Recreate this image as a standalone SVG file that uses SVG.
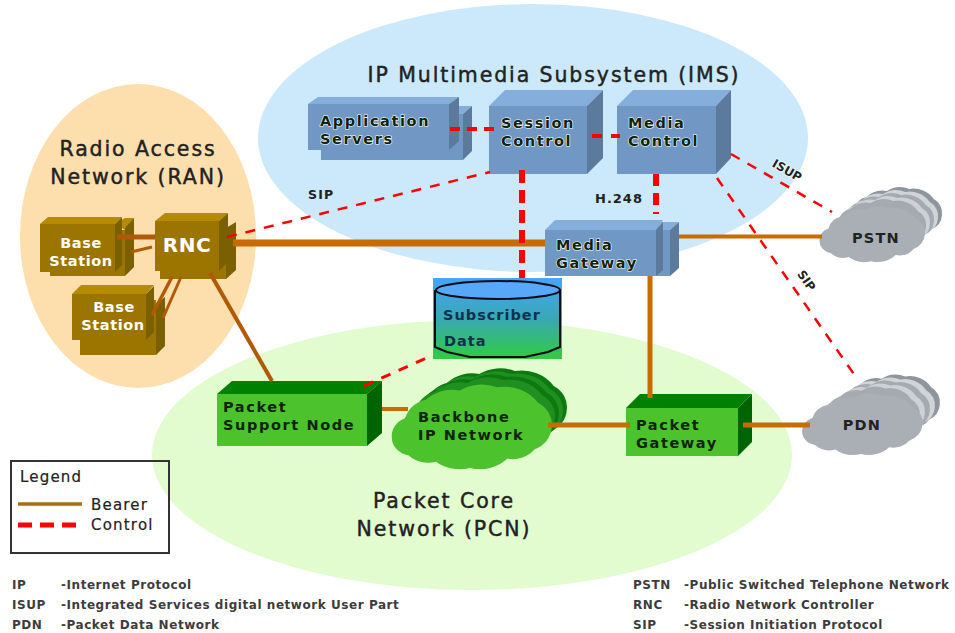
<svg xmlns="http://www.w3.org/2000/svg" xmlns:xlink="http://www.w3.org/1999/xlink" width="955" height="633" viewBox="0 0 955 633">
<style>
text{font-family:"DejaVu Sans","Liberation Sans",sans-serif;fill:#222}
.title{font-size:20.5px;letter-spacing:1.9px;font-weight:400;stroke:#222;stroke-width:.45px}
.lb{font-size:14.5px;font-weight:700;letter-spacing:.6px}
.ls{letter-spacing:1.6px}
.wh{fill:#fff}
.bk{fill:#10240c}
.sh{paint-order:stroke;stroke:#fff;stroke-width:1.2px}
.ft{font-size:12px;font-weight:700;fill:#3c3c3c;letter-spacing:.55px}
.lg{font-size:15px;letter-spacing:1.2px;stroke:#222;stroke-width:.2px}
.b1{fill:#9c7400}.b2{fill:#b58c00}.b3{fill:#7a6000}
.u1{fill:#7198c4}.u2{fill:#85aedc}.u3{fill:#5b7a9c}
.g1{fill:#4cc22c}.g2{fill:#008000}.g3{fill:#006400}
.bearer{stroke:#c86b00;fill:none}
.brown{stroke:#b05a08;fill:none}
.ctl{stroke:#ff0000;fill:none}
</style>
<defs>
<path id="cl" d="M4,38 A12,12 0 0 1 12,26 A16,16 0 0 1 24,14 A22,22 0 0 1 44,8 A24,24 0 0 1 66,6 A24,24 0 0 1 90,16 A16,16 0 0 1 98,32 A16,16 0 0 1 88,46 A16,16 0 0 1 72,52 A22,22 0 0 1 50,58 A22,22 0 0 1 30,54 A16,16 0 0 1 14,50 A12,12 0 0 1 4,38 Z"/>
<linearGradient id="db" x1="0" y1="0" x2="0" y2="1"><stop offset="0" stop-color="#45a5fa"/><stop offset=".5" stop-color="#38a8b4"/><stop offset="1" stop-color="#30cc40"/></linearGradient>
</defs>
<rect width="955" height="633" fill="#fff"/>
<g id="regions">
<ellipse cx="533" cy="138" rx="275" ry="134" fill="#cce9fc"/>
<ellipse cx="138" cy="236" rx="118" ry="152" fill="#fddfae"/>
<ellipse cx="472" cy="455" rx="320" ry="135" fill="#e2fcd0"/>
</g>
<text class="title" x="554" y="82" text-anchor="middle">IP Multimedia Subsystem (IMS)</text>
<text class="title" x="138" y="156" text-anchor="middle">Radio Access</text>
<text class="title" x="138" y="184" text-anchor="middle">Network (RAN)</text>
<text class="title" x="444" y="508" text-anchor="middle">Packet Core</text>
<text class="title" x="444" y="536" text-anchor="middle">Network (PCN)</text>

<g id="node-pstn">
<use xlink:href="#cl" transform="translate(842,183) scale(1.02,1)" fill="#8f959c"/>
<use xlink:href="#cl" transform="translate(838,186) scale(1.02,1)" fill="#d0d4d9"/>
<use xlink:href="#cl" transform="translate(834,189) scale(1.02,1)" fill="#a5aab1"/>
<use xlink:href="#cl" transform="translate(830,192) scale(1.02,1)" fill="#cdd1d6"/>
<use xlink:href="#cl" transform="translate(826,195) scale(1.02,1)" fill="#a5aab1"/>
<use xlink:href="#cl" transform="translate(815,202) scale(1.12,1.02)" fill="#aaaeb5"/>
<text class="lb" x="876" y="243" text-anchor="middle" style="letter-spacing:1.2px">PSTN</text>
</g>
<g id="node-pdn">
<use xlink:href="#cl" transform="translate(834,370) scale(1.08,1.08)" fill="#8f959c"/>
<use xlink:href="#cl" transform="translate(829,373) scale(1.08,1.08)" fill="#d0d4d9"/>
<use xlink:href="#cl" transform="translate(824,376) scale(1.08,1.08)" fill="#a5aab1"/>
<use xlink:href="#cl" transform="translate(819,379) scale(1.08,1.08)" fill="#cdd1d6"/>
<use xlink:href="#cl" transform="translate(814,382) scale(1.08,1.08)" fill="#a5aab1"/>
<use xlink:href="#cl" transform="translate(797,389) scale(1.28,1.12)" fill="#aaaeb5"/>
<text class="lb" x="862" y="430" text-anchor="middle" style="letter-spacing:1.2px">PDN</text>
</g>

<g id="node-base-station-1">
<path class="b1" d="M50,230H125V276H50Z"/><path class="b2" d="M115,224L125,218H134L125,230Z"/><path class="b3" d="M125,228L134,218V267L125,276Z"/>
<path class="b1" d="M40,224H115V272H40Z"/><path class="b2" d="M40,224L48,217H122L115,224Z"/><path class="b3" d="M115,224L122,217V265L115,272Z"/>
<text class="lb wh" x="81" y="248" text-anchor="middle">Base</text>
<text class="lb wh" x="81" y="266" text-anchor="middle">Station</text>
</g>
<g id="node-base-station-2">
<path class="b1" d="M80,300H156V355H80Z"/><path class="b3" d="M156,304L165,297V346L156,355Z"/>
<path class="b1" d="M72,294H146V340H72Z"/><path class="b2" d="M72,294L81,285H154L146,294Z"/><path class="b3" d="M146,294L154,286V332L146,340Z"/>
<text class="lb wh" x="114" y="312" text-anchor="middle">Base</text>
<text class="lb wh" x="113" y="330" text-anchor="middle">Station</text>
</g>
<g id="node-rnc">
<path class="b1" d="M160,230H226V279H160Z"/><path class="b3" d="M226,228L236,222V270L226,279Z"/>
<path class="b1" d="M155,221H219V271H155Z"/><path class="b2" d="M155,221L165,213H228L219,221Z"/><path class="b3" d="M219,221L228,213V262L219,271Z"/>
<text class="lb wh" style="font-size:20px" x="187" y="252" text-anchor="middle">RNC</text>
</g>

<g id="node-application-servers">
<path class="u1" d="M321,112H463V160H321Z"/><path class="u2" d="M449,106H472L463,114H449Z"/><path class="u3" d="M463,114L472,106V151L463,160Z"/>
<path class="u1" d="M308,104H449V150H308Z"/><path class="u2" d="M308,104L318,97H459L449,104Z"/><path class="u3" d="M449,104L459,97V141L449,150Z"/>
<text class="lb bk sh ls" x="320" y="126">Application</text>
<text class="lb bk sh ls" x="320" y="144">Servers</text>
</g>
<g id="node-session-control">
<path class="u1" d="M489,106H587V174H489Z"/><path class="u2" d="M489,106L505,90H603L587,106Z"/><path class="u3" d="M587,106L603,90V158L587,174Z"/>
<text class="lb bk sh ls" x="501" y="128">Session</text>
<text class="lb bk sh ls" x="501" y="146">Control</text>
</g>
<g id="node-media-control">
<path class="u1" d="M617,106H716V174H617Z"/><path class="u2" d="M617,106L633,90H731L716,106Z"/><path class="u3" d="M716,106L731,90V158L716,174Z"/>
<text class="lb bk sh ls" x="628" y="128">Media</text>
<text class="lb bk sh ls" x="628" y="146">Control</text>
</g>
<g id="node-media-gateway">
<path class="u1" d="M556,228H670V276H556Z"/><path class="u2" d="M656,222H679L670,230H656Z"/><path class="u3" d="M670,230L679,222V268L670,276Z"/>
<path class="u1" d="M545,230H656V276H545Z"/><path class="u2" d="M545,230L555,220H663L656,230Z"/><path class="u3" d="M656,230L663,222V270L656,276Z"/>
<text class="lb bk sh ls" x="556" y="250">Media</text>
<text class="lb bk sh ls" x="556" y="268">Gateway</text>
</g>
<g id="node-subscriber-data">
<rect x="433" y="278" width="129" height="81" fill="url(#db)"/>
<path d="M435,290V347L447,352L470,357H525L548,352L560,347V290" fill="none" stroke="#0a0a14" stroke-width="2"/>
<ellipse cx="498" cy="290" rx="62" ry="9" fill="#58a8fa" stroke="#0a0a14" stroke-width="2"/>
<text class="lb" style="fill:#0f3050;letter-spacing:1px" x="443" y="320">Subscriber</text>
<text class="lb" style="fill:#0f3050;letter-spacing:1px" x="444" y="346">Data</text>
</g>
<g id="node-packet-support-node">
<path class="g1" d="M217,394H367V446H217Z"/><path class="g2" d="M217,394L232,381H382L367,394Z"/><path class="g3" d="M367,394L382,381V433L367,446Z"/>
<text class="lb bk ls" x="223" y="412">Packet</text>
<text class="lb bk ls" x="223" y="430">Support Node</text>
</g>
<g id="node-backbone">
<use xlink:href="#cl" transform="translate(408,362) scale(1.62,1.5)" fill="#0c7a10"/>
<use xlink:href="#cl" transform="translate(404,365) scale(1.62,1.5)" fill="#1f8f22"/>
<use xlink:href="#cl" transform="translate(400,368) scale(1.62,1.5)" fill="#0c7a10"/>
<use xlink:href="#cl" transform="translate(396,371) scale(1.62,1.5)" fill="#1f8f22"/>
<use xlink:href="#cl" transform="translate(385,378) scale(1.7,1.55)" fill="#4cc22c"/>
<text class="lb bk ls" x="418" y="422">Backbone</text>
<text class="lb bk ls" x="418" y="440">IP Network</text>
</g>
<g id="node-packet-gateway">
<path class="g1" d="M626,408H738V456H626Z"/><path class="g2" d="M626,408L640,394H752L738,408Z"/><path class="g3" d="M738,408L752,394V442L738,456Z"/>
<text class="lb bk ls" x="636" y="430">Packet</text>
<text class="lb bk ls" x="636" y="448">Gateway</text>
</g>

<g id="connectors">
<path class="bearer" stroke-width="7" d="M233,243H545"/>
<path class="bearer" stroke-width="4" d="M679,236.500H822"/>
<path class="bearer" stroke-width="5" d="M650,276V398"/>
<path class="bearer" stroke-width="5" d="M743,425H810"/>
<path class="bearer" stroke-width="5" d="M548,425H630"/>
<path class="bearer" stroke-width="4" d="M382,409H408"/>
<path class="brown" stroke-width="4" d="M210,273L272,381"/>
<path class="brown" stroke-width="5" d="M117,237H155"/>
<path class="brown" stroke-width="3" d="M131,252L152,247"/>
<path class="brown" stroke-width="3.500" d="M172,277L152,315"/>
<path class="brown" stroke-width="3" d="M181,277L163,318"/>
<path class="ctl" stroke-width="2.500" stroke-dasharray="10 9" d="M227,237L490,172"/>
<path class="ctl" stroke-width="2.500" stroke-dasharray="10 9" d="M731,154L832,212"/>
<path class="ctl" stroke-width="2.500" stroke-dasharray="10 9" d="M717,178L858,380"/>
<path class="ctl" stroke-width="3" stroke-dasharray="10 9" d="M364,386L433,355"/>
<path class="ctl" stroke-width="4" stroke-dasharray="10 7" d="M450,129H499"/>
<path class="ctl" stroke-width="4" stroke-dasharray="10 9" d="M592,136H620"/>
<path class="ctl" stroke-width="6" stroke-dasharray="13 7" d="M522,170V278"/>
<path class="ctl" stroke-width="6" stroke-dasharray="12 7" d="M656,174V214"/>
</g>

<text x="308" y="199" style="font-size:12.5px;font-weight:700;letter-spacing:1.2px">SIP</text>
<text x="595" y="203" style="font-size:13px;font-weight:700;letter-spacing:1px">H.248</text>
<text transform="translate(785,174) rotate(30)" text-anchor="middle" style="font-size:12px;font-weight:700" class="sh">ISUP</text>
<text transform="translate(803,283) rotate(55)" text-anchor="middle" style="font-size:12px;font-weight:700" class="sh">SIP</text>

<g id="legend">
<rect x="11" y="461" width="158" height="92" fill="none" stroke="#333" stroke-width="2"/>
<text class="lg" x="20" y="482">Legend</text>
<path d="M18,504H82" stroke="#a8700f" stroke-width="3.500"/>
<path d="M18,525H82" stroke="#ff0000" stroke-width="5" stroke-dasharray="14 8"/>
<text class="lg" x="91" y="510">Bearer</text>
<text class="lg" x="91" y="530">Control</text>
</g>
<g id="abbreviations">
<text class="ft" x="12" y="589">IP</text><text class="ft" x="61" y="589">-Internet Protocol</text>
<text class="ft" x="12" y="609">ISUP</text><text class="ft" x="61" y="609">-Integrated Services digital network User Part</text>
<text class="ft" x="12" y="629">PDN</text><text class="ft" x="61" y="629">-Packet Data Network</text>
<text class="ft" x="633" y="589">PSTN</text><text class="ft" x="684" y="589">-Public Switched Telephone Network</text>
<text class="ft" x="633" y="609">RNC</text><text class="ft" x="684" y="609">-Radio Network Controller</text>
<text class="ft" x="633" y="629">SIP</text><text class="ft" x="684" y="629">-Session Initiation Protocol</text>
</g>
</svg>
